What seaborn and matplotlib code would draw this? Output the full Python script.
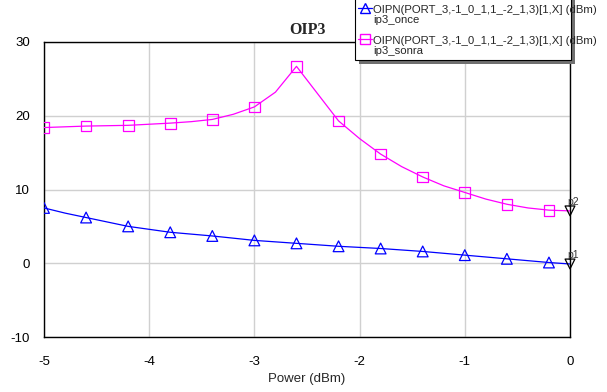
import matplotlib
matplotlib.use("Agg")
import matplotlib.pyplot as plt
from matplotlib.lines import Line2D
from matplotlib.patches import Rectangle
import seaborn as sns
import pandas as pd

power = [-5.0, -4.8, -4.6, -4.4, -4.2, -4.0, -3.8, -3.6, -3.4, -3.2, -3.0, -2.8, -2.6,
         -2.4, -2.2, -2.0, -1.8, -1.6, -1.4, -1.2, -1.0, -0.8, -0.6, -0.4, -0.2, 0.0]
ip3_sonra = [18.4, 18.5, 18.6, 18.65, 18.7, 18.85, 19.0, 19.2, 19.5, 20.2, 21.2, 23.2, 26.7,
             23.0, 19.3, 16.9, 14.8, 13.1, 11.7, 10.5, 9.6, 8.7, 8.0, 7.5, 7.2, 7.1]
ip3_once = [7.5, 6.8, 6.2, 5.6, 5.0, 4.6, 4.2, 3.95, 3.7, 3.4, 3.1, 2.9, 2.7,
            2.5, 2.3, 2.15, 2.0, 1.8, 1.6, 1.35, 1.1, 0.85, 0.6, 0.35, 0.1, -0.1]
legend_expr = "OIPN(PORT_3,-1_0_1,1_-2_1,3)[1,X] (dBm)"
legend_names = ["ip3_once", "ip3_sonra"]
x_ticks = [-5, -4, -3, -2, -1, 0]
y_ticks = [-10, 0, 10, 20, 30]

df = pd.DataFrame({"power": power, "once": ip3_once, "sonra": ip3_sonra})
mk = df.iloc[0:25:2]  # markers every 0.4 dBm
end = df.iloc[[-1]]

sns.set_style("white")
plt.rcParams["font.family"] = ["Liberation Sans", "DejaVu Sans"]

W, H = 607, 392
fig = plt.figure(figsize=(W/100, H/100), dpi=100)
ax = fig.add_axes([44/W, 55/H, 526/W, 295/H])

blue = "#0000ff"
pink = "#ff00ff"

sns.lineplot(data=df, x="power", y="once", ax=ax, color=blue, lw=0.9, zorder=3)
sns.lineplot(data=df, x="power", y="sonra", ax=ax, color=pink, lw=0.9, zorder=3)
sns.scatterplot(data=mk, x="power", y="once", ax=ax, marker="^", s=60,
                facecolor="none", edgecolor=blue, linewidth=0.9, zorder=4)
sns.scatterplot(data=mk, x="power", y="sonra", ax=ax, marker="s", s=60,
                facecolor="none", edgecolor=pink, linewidth=0.9, zorder=4)
# p1 / p2 markers at the end
sns.scatterplot(data=end, x="power", y="once", ax=ax, marker="v", s=50,
                facecolor="none", edgecolor="black", linewidth=0.9, zorder=5, clip_on=False)
sns.scatterplot(data=end, x="power", y="sonra", ax=ax, marker="v", s=50,
                facecolor="none", edgecolor="black", linewidth=0.9, zorder=5, clip_on=False)
ax.text(power[-1] - 0.03, ip3_once[-1] + 0.5, "p1", fontsize=7.5, color="#333333",
        ha="left", va="bottom")
ax.text(power[-1] - 0.03, ip3_sonra[-1] + 0.5, "p2", fontsize=7.5, color="#333333",
        ha="left", va="bottom")

ax.set_xlim(-5, 0)
ax.set_ylim(-10, 30)
ax.set_xticks(x_ticks)
ax.set_yticks(y_ticks)
ax.set_xticklabels([str(t) for t in x_ticks])
ax.set_yticklabels([str(t) for t in y_ticks])
ax.grid(True, color="#d0d0d0", lw=1.0)
ax.tick_params(axis="both", length=0, labelsize=9.5, colors="black")
ax.tick_params(axis="x", pad=14)
ax.tick_params(axis="y", pad=10)
for s in ax.spines.values():
    s.set_color("black")
    s.set_linewidth(1.0)
ax.set_xlabel("Power (dBm)", fontsize=9.5, labelpad=3)
ax.set_ylabel("")
ax.set_title("OIP3", fontsize=11.5, fontweight="bold", family="Liberation Serif", pad=6)

# legend box (text overflows the box, as in the reference)
def fx(px):
    return px / W
def fy(py):
    return 1 - py / H

box_l, box_r, box_t, box_b = 355, 571, -10, 60
fig.patches.append(Rectangle((fx(box_l + 4), fy(box_b + 4)), fx(box_r - box_l), (box_b - box_t) / H,
                             transform=fig.transFigure, facecolor="#707070", edgecolor="none",
                             zorder=10))
fig.patches.append(Rectangle((fx(box_l), fy(box_b)), fx(box_r - box_l), (box_b - box_t) / H,
                             transform=fig.transFigure, facecolor="white", edgecolor="black",
                             lw=0.8, zorder=11))
entries = [(blue, "^", 8, 13), (pink, "s", 39, 44)]
for (col, m, hy, base), name in zip(entries, legend_names):
    fig.lines.append(Line2D([fx(358), fx(372)], [fy(hy), fy(hy)], transform=fig.transFigure,
                            color=col, lw=0.9, zorder=12))
    fig.lines.append(Line2D([fx(365)], [fy(hy)], transform=fig.transFigure, color=col,
                            marker=m, markersize=7, markerfacecolor="none", lw=0, zorder=12))
    fig.text(fx(373), fy(base), legend_expr, fontsize=8.2, ha="left", va="baseline", zorder=13)
    fig.text(fx(373), fy(base + 9.8), name, fontsize=8.2, ha="left", va="baseline", zorder=13)

fig.savefig("out.png", dpi=100)
